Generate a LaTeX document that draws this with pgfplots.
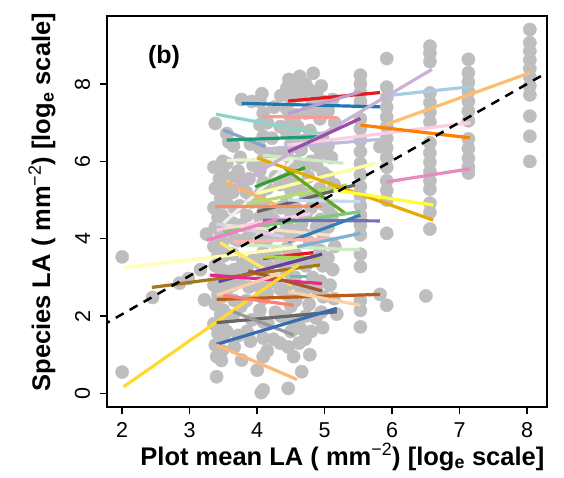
\documentclass[border=0pt]{standalone}
\usepackage{pgfplots}
\pgfplotsset{compat=1.18}
\usepackage{fontspec}
\setmainfont{Liberation Sans}
\definecolor{ptgray}{HTML}{BEBEBE}
\newcommand{\seg}[5]{\addplot[draw=#1, line width=3.2pt] coordinates {(#2,#3) (#4,#5)};}
\pgfplotstableread{
x y
2.00 3.53
2.00 0.55
2.45 2.48
2.85 2.85
2.98 2.97
3.16 3.20
3.25 4.12
3.22 2.42
3.38 6.98
3.36 5.85
3.44 5.55
3.38 5.30
3.46 5.05
3.36 4.80
3.42 4.55
3.38 4.30
3.46 4.05
3.36 3.80
3.42 3.55
3.38 3.30
3.46 3.05
3.36 2.80
3.42 2.55
3.38 2.30
3.46 2.05
3.36 1.80
3.42 1.55
3.38 1.25
3.40 0.95
3.47 0.85
3.40 0.43
3.49 6.00
3.50 5.65
3.48 5.30
3.50 4.95
3.48 4.60
3.50 4.25
3.48 3.90
3.50 3.55
3.48 3.20
3.50 2.85
3.48 2.50
3.50 2.15
3.48 1.80
3.50 1.45
3.48 1.10
3.55 6.72
3.58 6.50
3.55 5.95
3.60 5.25
3.54 4.95
3.58 4.45
3.55 3.65
3.60 3.15
3.54 2.60
3.58 2.00
3.55 1.60
3.65 6.40
3.66 5.60
3.64 5.20
3.66 4.80
3.64 4.40
3.66 4.00
3.64 3.60
3.66 3.20
3.64 2.80
3.66 2.40
3.64 2.00
3.66 1.20
3.77 7.60
3.75 6.10
3.72 5.75
3.78 5.45
3.74 4.85
3.76 4.35
3.72 3.95
3.78 3.35
3.74 2.95
3.76 2.25
3.72 1.50
3.77 0.86
3.84 5.20
3.85 4.60
3.84 4.00
3.85 3.20
3.84 2.40
3.85 1.60
3.92 7.55
3.90 6.45
3.94 5.90
3.88 5.55
3.92 4.95
3.90 4.20
3.94 3.45
3.88 2.75
3.92 1.90
3.90 1.35
4.07 7.75
4.04 7.55
4.09 7.25
4.04 6.95
4.09 6.65
4.04 6.35
4.09 6.05
4.04 5.75
4.09 5.45
4.04 5.15
4.09 4.85
4.04 4.55
4.09 4.25
4.04 3.95
4.09 3.65
4.04 3.35
4.09 3.05
4.04 2.75
4.09 2.45
4.04 2.15
4.09 1.85
4.09 1.43
4.09 0.95
4.00 0.60
4.09 0.09
4.06 0.02
4.15 7.00
4.16 6.20
4.15 5.30
4.16 4.70
4.15 4.00
4.16 3.30
4.15 2.60
4.16 1.80
4.15 1.10
4.25 7.40
4.22 6.60
4.27 5.60
4.24 4.50
4.26 3.60
4.22 2.90
4.27 2.10
4.24 1.40
4.35 7.70
4.34 6.90
4.35 6.20
4.34 5.40
4.35 4.80
4.34 4.10
4.35 3.40
4.34 2.70
4.35 2.00
4.34 1.30
4.47 8.12
4.44 7.90
4.50 7.65
4.44 7.35
4.50 7.05
4.44 6.75
4.50 6.45
4.44 6.15
4.50 5.85
4.44 5.55
4.50 5.25
4.44 4.95
4.50 4.65
4.44 4.35
4.50 4.05
4.44 3.75
4.50 3.45
4.44 3.15
4.50 2.85
4.44 2.55
4.50 2.25
4.44 1.95
4.50 1.60
4.46 1.20
4.54 0.95
4.46 0.13
4.56 7.95
4.57 7.20
4.56 6.60
4.57 6.00
4.56 5.40
4.57 4.80
4.56 4.20
4.57 3.60
4.56 3.00
4.57 2.40
4.56 1.80
4.63 8.20
4.66 7.70
4.60 6.90
4.65 6.30
4.62 5.30
4.66 4.40
4.60 3.50
4.64 2.60
4.60 1.90
4.64 1.68
4.62 1.30
4.66 0.56
4.72 8.00
4.72 7.25
4.71 6.55
4.72 5.90
4.71 5.15
4.72 4.60
4.71 4.10
4.72 3.30
4.71 2.70
4.72 2.00
4.71 1.40
4.83 8.28
4.77 7.85
4.82 7.50
4.78 6.80
4.80 6.00
4.76 5.60
4.80 4.80
4.78 3.90
4.82 3.00
4.77 2.30
4.80 1.60
4.78 1.00
4.88 7.75
4.88 7.30
4.87 6.40
4.88 5.90
4.87 5.10
4.88 4.30
4.87 3.50
4.88 2.70
4.87 1.95
4.95 7.95
4.98 7.55
4.93 7.10
4.97 6.60
4.94 6.20
4.98 5.70
4.93 5.30
4.97 4.90
4.94 4.50
4.98 4.10
4.93 3.70
4.97 3.30
4.94 2.90
4.98 2.50
4.95 2.10
4.97 1.70
5.05 7.30
5.05 6.40
5.05 5.60
5.05 4.80
5.05 4.30
5.05 3.50
5.08 2.80
5.12 7.60
5.15 7.00
5.10 6.10
5.14 5.40
5.11 4.60
5.15 3.80
5.12 3.20
5.14 2.45
5.18 2.05
5.53 8.23
5.53 8.00
5.53 7.78
5.53 7.55
5.53 7.10
5.53 6.85
5.53 6.55
5.53 6.25
5.53 5.95
5.53 5.65
5.53 5.35
5.53 5.10
5.53 4.85
5.53 4.60
5.53 4.35
5.53 4.10
5.53 3.60
5.53 3.28
5.53 2.40
5.53 2.15
5.53 1.72
5.92 8.66
5.92 7.92
5.92 7.65
5.92 7.40
5.92 7.15
5.92 6.90
5.92 6.60
5.92 6.35
5.92 6.10
5.92 5.85
5.92 5.50
5.92 5.25
5.92 5.00
5.92 4.14
5.92 2.28
5.82 2.56
5.82 6.38
6.56 8.98
6.56 8.80
6.56 8.58
6.56 7.77
6.56 7.52
6.56 7.27
6.56 7.02
6.56 6.48
6.56 6.22
6.56 5.98
6.56 5.74
6.56 5.50
6.56 5.28
6.56 4.92
6.56 4.68
6.56 4.25
6.50 2.52
7.13 8.64
7.13 8.29
7.13 8.05
7.13 7.80
7.13 7.55
7.13 7.30
7.13 7.05
7.13 6.58
7.13 6.33
7.13 6.08
7.13 5.85
7.13 5.70
8.04 9.41
8.04 9.07
8.04 8.85
8.04 8.62
8.04 8.40
8.04 8.18
8.04 7.95
8.04 7.72
8.04 7.17
8.04 6.65
8.04 6.00
}\pts
\begin{document}
\begin{tikzpicture}
\begin{axis}[
  at={(0,0)}, anchor=south west,
  scale only axis, width=439.4pt, height=391.3pt,
  xmin=1.78, xmax=8.29, ymin=-0.36, ymax=9.76,
  xtick={2,3,4,5,6,7,8}, ytick={0,2,4,6,8},
  tick align=outside, xtick pos=bottom, ytick pos=left,
  major tick length=7pt,
  tick style={line width=1.3pt, black},
  axis line style={line width=1.8pt},
  /pgf/number format/assume math mode=true,
  ticklabel style={font=\fontsize{21.5}{21.5}\selectfont, inner sep=0pt},
  xticklabel style={anchor=north},
  yticklabel style={rotate=90, anchor=south},
  xticklabel shift=8pt, yticklabel shift=10pt,
  every axis x label/.style={at={(axis description cs:0.535,-0.1475)}, anchor=base},
  every axis y label/.style={at={(axis description cs:-0.1304,0.524)}, anchor=base, rotate=90},
  label style={font=\fontsize{25.5}{25.5}\selectfont\bfseries, inner sep=0pt},
  xlabel={Plot mean LA ( mm\textsuperscript{\mdseries −2}) [log\textsubscript{e} scale]},
  ylabel={Species LA ( mm\textsuperscript{\mdseries −2}) [log\textsubscript{e} scale]},
  clip=true, clip marker paths=true,
]
\addplot[only marks, mark=*, mark size=6.6pt, color=ptgray, mark options={draw=none, fill=ptgray}] table {\pts};
\seg{{rgb,255:red,190;green,186;blue,218}}{4.12}{6.32}{5.82}{6.57}
\seg{{rgb,255:red,252;green,205;blue,229}}{4.45}{6.42}{7.16}{7.00}
\seg{{rgb,255:red,228;green,26;blue,28}}{4.46}{7.56}{5.82}{7.78}
\seg{{rgb,255:red,31;green,120;blue,180}}{3.77}{7.50}{5.82}{7.41}
\seg{{rgb,255:red,194;green,155;blue,203}}{4.46}{7.24}{5.53}{7.80}
\seg{{rgb,255:red,166;green,206;blue,227}}{5.92}{7.70}{7.16}{7.93}
\seg{{rgb,255:red,253;green,191;blue,111}}{5.92}{6.96}{8.04}{8.29}
\seg{{rgb,255:red,251;green,154;blue,153}}{4.08}{7.16}{5.18}{7.13}
\seg{{rgb,255:red,141;green,211;blue,199}}{3.39}{7.22}{4.93}{6.72}
\seg{{rgb,255:red,255;green,127;blue,0}}{5.53}{6.94}{7.15}{6.61}
\seg{{rgb,255:red,141;green,160;blue,203}}{3.50}{6.81}{4.12}{6.38}
\seg{{rgb,255:red,27;green,158;blue,119}}{3.55}{6.55}{4.93}{6.64}
\seg{{rgb,255:red,204;green,235;blue,197}}{4.09}{6.16}{5.28}{5.95}
\seg{{rgb,255:red,229;green,245;blue,208}}{3.55}{6.03}{4.54}{6.05}
\seg{{rgb,255:red,240;green,240;blue,240}}{3.50}{4.40}{4.53}{6.03}
\seg{{rgb,255:red,51;green,160;blue,44}}{3.97}{5.34}{4.71}{5.84}
\seg{{rgb,255:red,255;green,255;blue,153}}{4.00}{5.17}{5.75}{5.95}
\seg{{rgb,255:red,253;green,180;blue,98}}{3.53}{5.47}{4.34}{4.83}
\seg{{rgb,255:red,179;green,222;blue,105}}{3.85}{4.91}{5.33}{5.39}
\seg{{rgb,255:red,102;green,102;blue,102}}{4.00}{4.70}{5.45}{5.39}
\seg{{rgb,255:red,198;green,219;blue,239}}{4.46}{5.00}{5.53}{4.96}
\seg{{rgb,255:red,252;green,141;blue,98}}{3.38}{4.83}{4.96}{4.84}
\seg{{rgb,255:red,102;green,166;blue,30}}{4.41}{5.82}{5.30}{4.66}
\seg{{rgb,255:red,230;green,171;blue,2}}{4.00}{6.09}{6.61}{4.48}
\seg{{rgb,255:red,255;green,255;blue,51}}{5.13}{5.26}{6.61}{4.87}
\seg{{rgb,255:red,202;green,178;blue,214}}{3.65}{5.34}{6.59}{8.38}
\seg{{rgb,255:red,152;green,78;blue,163}}{4.46}{6.25}{5.53}{7.11}
\seg{{rgb,255:red,222;green,203;blue,228}}{3.40}{4.38}{4.40}{4.05}
\seg{{rgb,255:red,252;green,205;blue,229}}{3.40}{4.22}{4.79}{4.65}
\seg{{rgb,255:red,127;green,201;blue,127}}{3.50}{4.18}{5.53}{4.70}
\seg{{rgb,255:red,117;green,112;blue,179}}{4.09}{4.48}{5.82}{4.46}
\seg{{rgb,255:red,241;green,226;blue,204}}{3.53}{4.35}{5.08}{4.09}
\seg{{rgb,255:red,240;green,128;blue,192}}{3.25}{3.96}{4.30}{4.50}
\seg{{rgb,255:red,55;green,126;blue,184}}{4.46}{3.92}{5.53}{4.61}
\seg{{rgb,255:red,251;green,180;blue,174}}{3.65}{3.92}{5.13}{4.00}
\seg{{rgb,255:red,204;green,235;blue,197}}{3.77}{3.84}{5.53}{3.71}
\seg{{rgb,255:red,128;green,177;blue,211}}{4.59}{3.79}{5.53}{4.14}
\seg{{rgb,255:red,255;green,255;blue,179}}{2.02}{3.25}{4.59}{3.78}
\seg{{rgb,255:red,228;green,26;blue,28}}{4.09}{3.49}{4.83}{3.64}
\seg{{rgb,255:red,166;green,216;blue,84}}{4.09}{3.53}{4.93}{3.50}
\seg{{rgb,255:red,255;green,230;blue,107}}{3.45}{3.90}{4.51}{2.80}
\seg{{rgb,255:red,106;green,61;blue,154}}{3.43}{2.89}{4.96}{3.60}
\seg{{rgb,255:red,166;green,118;blue,29}}{2.44}{2.74}{4.93}{3.32}
\seg{{rgb,255:red,102;green,194;blue,165}}{4.49}{3.03}{4.74}{3.03}
\seg{{rgb,255:red,231;green,41;blue,138}}{3.30}{3.06}{4.96}{2.84}
\seg{{rgb,255:red,166;green,86;blue,40}}{3.87}{3.17}{4.96}{2.65}
\seg{{rgb,255:red,253;green,205;blue,172}}{3.40}{2.54}{4.34}{3.10}
\seg{{rgb,255:red,255;green,217;blue,47}}{2.02}{0.17}{4.61}{3.32}
\seg{{rgb,255:red,191;green,91;blue,23}}{3.40}{2.43}{5.82}{2.56}
\seg{{rgb,255:red,251;green,128;blue,114}}{3.50}{2.53}{4.54}{2.28}
\seg{{rgb,255:red,253;green,208;blue,162}}{4.46}{2.63}{5.53}{2.28}
\seg{{rgb,255:red,102;green,102;blue,102}}{3.40}{1.83}{5.18}{2.11}
\seg{{rgb,255:red,153;green,153;blue,153}}{3.65}{2.11}{4.54}{1.51}
\seg{{rgb,255:red,56;green,108;blue,176}}{3.40}{1.27}{5.18}{2.20}
\seg{{rgb,255:red,253;green,185;blue,125}}{3.40}{1.25}{4.59}{0.36}
\seg{{rgb,255:red,231;green,138;blue,195}}{5.92}{5.47}{7.16}{5.81}
\addplot[black, line width=2.5pt, dash pattern=on 9pt off 7pt] coordinates {(1.70,1.75) (8.40,8.40)};
\node[font=\fontsize{25}{25}\selectfont\bfseries, anchor=center] at (axis cs:2.62,8.70) {(b)};
\end{axis}
\pgfresetboundingbox
\path (-107.3pt,-70.7pt) rectangle (456.7pt,407.3pt);
\end{tikzpicture}
\end{document}
